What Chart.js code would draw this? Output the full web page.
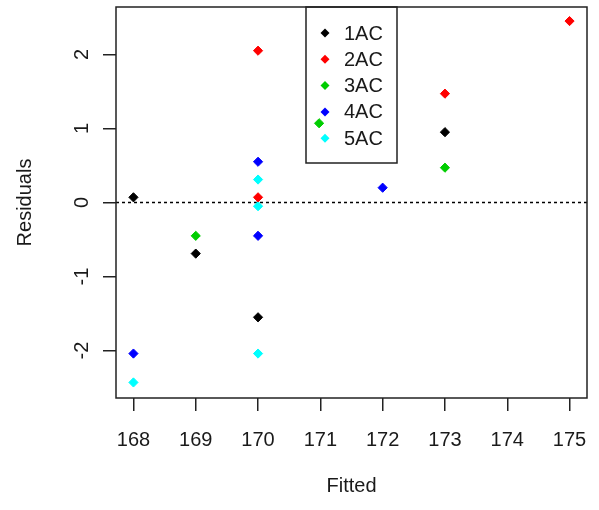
<!DOCTYPE html>
<html>
<head>
<meta charset="utf-8">
<title>Residuals vs Fitted</title>
<script src="https://cdn.jsdelivr.net/npm/chart.js@4"></script>
<style>
    body { margin: 0; background: #fff; }
    #wrap { width: 599px; height: 510px; }
</style>
</head>
<body>
<div id="wrap"><canvas id="resid" width="599" height="510"></canvas></div>
<script>
// groups and their point colours
const groups = ['1AC', '2AC', '3AC', '4AC', '5AC']
const colors = ['#000000', '#ff0000', '#00cd00', '#0000ff', '#00ffff']

// fitted values and residuals per group
const fitted1AC = [168, 169, 170, 173]
const resid1AC = [0.07, -0.69, -1.55, 0.95]
const fitted2AC = [170, 170, 173, 175]
const resid2AC = [2.05, 0.07, 1.47, 2.45]
const fitted3AC = [169, 170.98, 173]
const resid3AC = [-0.45, 1.07, 0.47]
const fitted4AC = [168, 170, 170, 172]
const resid4AC = [-2.04, 0.55, -0.45, 0.2]
const fitted5AC = [168, 170, 170, 170]
const resid5AC = [-2.43, 0.31, -0.05, -2.04]

const xTicks = [168, 169, 170, 171, 172, 173, 174, 175]
const yTicks = [-2, -1, 0, 1, 2]

const fittedAll = [fitted1AC, fitted2AC, fitted3AC, fitted4AC, fitted5AC]
const residAll = [resid1AC, resid2AC, resid3AC, resid4AC, resid5AC]

const FONT = '20px "Liberation Sans", Arial, sans-serif'
const INK = '#1a1a1a'

const datasets = groups.map((g, i) => ({
    label: g,
    data: fittedAll[i].map((x, j) => ({ x: x, y: residAll[i][j] })),
    backgroundColor: colors[i],
    borderColor: colors[i],
    borderWidth: 1,
    pointStyle: 'rectRot',
    pointRadius: 4.6,
}))

// box, zero line, legend (under the points), tick labels and axis titles
const rPlot = {
    id: 'rPlot',
    beforeDatasetsDraw(chart) {
        const { ctx, chartArea: a, scales } = chart
        const y0 = scales.y.getPixelForValue(0)
        ctx.save()
        ctx.strokeStyle = '#000'
        ctx.lineWidth = 1.5
        ctx.setLineDash([3, 3])
        ctx.beginPath()
        ctx.moveTo(a.left, y0)
        ctx.lineTo(a.right, y0)
        ctx.stroke()
        ctx.setLineDash([])

        // legend box
        ctx.fillStyle = '#fff'
        ctx.fillRect(306, a.top, 91, 156)
        ctx.strokeStyle = '#222'
        ctx.lineWidth = 1.5
        ctx.strokeRect(306, a.top, 91, 156)
        ctx.font = FONT
        ctx.textAlign = 'left'
        ctx.textBaseline = 'middle'
        chart.data.datasets.forEach((ds, i) => {
            const cy = 33 + i * 26.3
            const r = 4.5
            ctx.fillStyle = ds.backgroundColor
            ctx.beginPath()
            ctx.moveTo(325, cy - r)
            ctx.lineTo(325 + r, cy)
            ctx.lineTo(325, cy + r)
            ctx.lineTo(325 - r, cy)
            ctx.closePath()
            ctx.fill()
            ctx.fillStyle = INK
            ctx.fillText(ds.label, 344, cy + 1)
        })
        ctx.restore()
    },
    afterDraw(chart) {
        const { ctx, chartArea: a, scales } = chart
        ctx.save()
        ctx.strokeStyle = '#222'
        ctx.lineWidth = 1.5
        ctx.strokeRect(a.left, a.top, a.right - a.left, a.bottom - a.top)

        ctx.fillStyle = INK
        ctx.font = FONT
        ctx.textAlign = 'center'
        ctx.textBaseline = 'middle'
        xTicks.forEach((v) => {
            ctx.fillText(String(v), scales.x.getPixelForValue(v), 440)
        })
        ctx.fillText('Fitted', (a.left + a.right) / 2, 486)

        yTicks.forEach((v) => {
            ctx.save()
            ctx.translate(82, scales.y.getPixelForValue(v))
            ctx.rotate(-Math.PI / 2)
            ctx.fillText(String(v), 0, 0)
            ctx.restore()
        })
        ctx.save()
        ctx.translate(25, (a.top + a.bottom) / 2)
        ctx.rotate(-Math.PI / 2)
        ctx.fillText('Residuals', 0, 0)
        ctx.restore()
        ctx.restore()
    },
}

const ctx = document.getElementById('resid').getContext('2d')
const chart = new Chart(ctx, {
    type: 'scatter',
    data: { datasets: datasets },
    options: {
        responsive: false,
        animation: false,
        layout: { padding: { top: 7, right: 12, left: 0, bottom: 0 } },
        plugins: {
            legend: { display: false },
            tooltip: { enabled: false },
        },
        scales: {
            x: {
                type: 'linear',
                min: 167.72,
                max: 175.28,
                afterBuildTicks: (s) => { s.ticks = xTicks.map((v) => ({ value: v })) },
                afterFit: (s) => { s.height = 112 },
                ticks: { display: false },
                border: { display: false },
                grid: { drawOnChartArea: false, tickLength: 13, color: '#222', lineWidth: 1.5 },
            },
            y: {
                type: 'linear',
                min: -2.64,
                max: 2.64,
                afterBuildTicks: (s) => { s.ticks = yTicks.map((v) => ({ value: v })) },
                afterFit: (s) => { s.width = 116 },
                ticks: { display: false },
                border: { display: false },
                grid: { drawOnChartArea: false, tickLength: 13, color: '#222', lineWidth: 1.5 },
            },
        },
    },
    plugins: [rPlot],
})
</script>
</body>
</html>
